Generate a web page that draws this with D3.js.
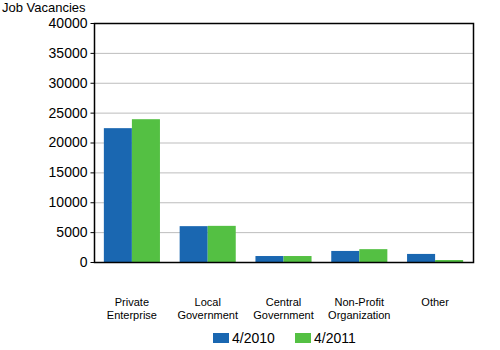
<!DOCTYPE html>
<html>
<head>
<meta charset="utf-8">
<script src="https://cdn.jsdelivr.net/npm/d3@7"></script>
<style>
  body { margin: 0; background: #fff; }
  text { font-family: Arial, "Liberation Sans", sans-serif; fill: #000; }
</style>
</head>
<body>
<div id="chart"></div>
<script>
// data
var categories = [["Private", "Enterprise"], ["Local", "Government"], ["Central", "Government"], ["Non-Profit", "Organization"], ["Other"]];
var series = ["4/2010", "4/2011"];
var values2010 = [22400, 6000, 1000, 1850, 1350];
var values2011 = [23900, 6050, 1000, 2150, 330];
var yTicks = [0, 5000, 10000, 15000, 20000, 25000, 30000, 35000, 40000];
var colors = ["#1a67b1", "#54c043"];

var margin = { top: 23, right: 27, bottom: 88, left: 94 },
    width = 500 - margin.left - margin.right,
    height = 350 - margin.top - margin.bottom;

var svg = d3.select("#chart").append("svg")
    .attr("width", 500)
    .attr("height", 350);

var g = svg.append("g")
    .attr("transform", "translate(" + margin.left + "," + margin.top + ")");

var x0 = d3.scaleBand()
    .domain(d3.range(categories.length))
    .range([0, width])
    .paddingInner(0.26)
    .paddingOuter(0.13);

var x1 = d3.scaleBand()
    .domain(series)
    .range([0, x0.bandwidth()]);

var y = d3.scaleLinear()
    .domain([0, 40000])
    .range([height, 0]);

// grid lines
g.selectAll(".grid")
    .data(yTicks.slice(1, -1))
    .join("line")
    .attr("class", "grid")
    .attr("x1", 0)
    .attr("x2", width)
    .attr("y1", d => y(d) + 0.5)
    .attr("y2", d => y(d) + 0.5)
    .attr("stroke", "#bdbdbd")
    .attr("stroke-width", 1);

// bars
var data = [values2010, values2011];
categories.forEach(function (c, i) {
    series.forEach(function (s, j) {
        var v = data[j][i];
        g.append("rect")
            .attr("x", x0(i) + x1(s))
            .attr("y", y(v))
            .attr("width", x1.bandwidth())
            .attr("height", height - y(v))
            .attr("fill", colors[j]);
    });
});

// y axis
var yAxis = d3.axisLeft(y).tickValues(yTicks).tickSize(4).tickPadding(3).tickFormat(d3.format("d"));
g.append("g")
    .attr("transform", "translate(0.5,0)")
    .call(yAxis)
    .call(a => a.select(".domain").remove())
    .call(a => a.selectAll("line").attr("stroke", "#000"))
    .call(a => a.selectAll("text").attr("font-size", 14).attr("fill", "#222"));

// frame
g.append("rect")
    .attr("x", 0.5)
    .attr("y", 0.5)
    .attr("width", width)
    .attr("height", height)
    .attr("fill", "none")
    .attr("stroke", "#000")
    .attr("stroke-width", 1.5);

// category labels
categories.forEach(function (c, i) {
    var t = g.append("text")
        .attr("text-anchor", "middle")
        .attr("font-size", 11)
        .attr("x", x0(i) + x0.bandwidth() / 2)
        .attr("y", height + 44);
    c.forEach(function (line, k) {
        t.append("tspan")
            .attr("x", x0(i) + x0.bandwidth() / 2)
            .attr("dy", k === 0 ? 0 : 12.5)
            .text(line);
    });
});

// y title
svg.append("text")
    .attr("x", 2)
    .attr("y", 12)
    .attr("font-size", 13)
    .text("Job Vacancies");

// legend
var legendX = [213, 295];
series.forEach(function (s, j) {
    svg.append("rect")
        .attr("x", legendX[j])
        .attr("y", 333)
        .attr("width", 16)
        .attr("height", 10)
        .attr("fill", colors[j]);
    svg.append("text")
        .attr("x", legendX[j] + 19)
        .attr("y", 343)
        .attr("font-size", 14)
        .text(s);
});
</script>
</body>
</html>
